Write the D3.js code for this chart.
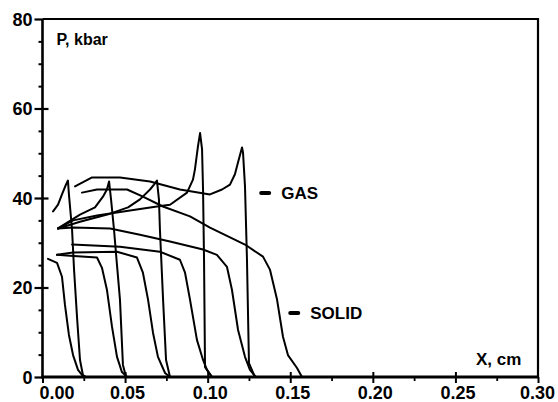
<!DOCTYPE html>
<html>
<head>
<meta charset="utf-8">
<script src="https://cdn.jsdelivr.net/npm/d3@7"></script>
<style>
  html, body { margin: 0; padding: 0; background: #fff; }
  svg { display: block; }
  text { font-family: "Liberation Sans", Arial, Helvetica, sans-serif; font-weight: bold; fill: #000; }
</style>
</head>
<body>
<svg id="chart" width="558" height="402"></svg>
<script>
// Pressure profiles P (kbar) versus distance X (cm) at successive times.
// Each profile is a list of [x, P] pairs.

// gas pressure profiles, each ending in a spike at the front
const gas1 = [[0.0064,37.0],[0.0094,38.5],[0.0118,40.8],[0.0142,43.0],[0.0154,43.9],[0.0160,40.8],[0.0179,32.9],[0.0191,24.0],[0.0209,13.4],[0.0227,3.8],[0.0245,0.4],[0.0263,0]];
const gas2 = [[0.0094,33.2],[0.0227,36.3],[0.0318,37.9],[0.0366,40.3],[0.0390,41.9],[0.0403,43.7],[0.0415,39.7],[0.0433,32.9],[0.0451,25.0],[0.0469,17.3],[0.0487,2.7],[0.0506,0]];
const gas3 = [[0.0094,33.2],[0.0227,34.7],[0.0409,36.5],[0.0518,37.9],[0.0590,39.7],[0.0651,41.9],[0.0675,43.0],[0.0693,43.9],[0.0705,39.7],[0.0711,32.9],[0.0730,17.3],[0.0748,3.8],[0.0772,0]];
const gas4 = [[0.0094,33.2],[0.0185,35.0],[0.0330,36.1],[0.0530,37.2],[0.0693,38.1],[0.0772,38.5],[0.0875,41.2],[0.0911,44.1],[0.0923,46.4],[0.0941,51.5],[0.0954,54.5],[0.0966,50.9],[0.0972,41.9],[0.0978,26.2],[0.0984,2.2],[0.1026,0]];
const gas5 = [[0.0197,42.6],[0.0300,44.6],[0.0469,44.6],[0.0651,43.7],[0.0832,41.9],[0.1014,40.8],[0.1087,41.9],[0.1135,43.0],[0.1165,45.3],[0.1184,48.0],[0.1208,51.3],[0.1214,50.2],[0.1226,42.6],[0.1238,26.2],[0.1250,3.1],[0.1286,0]];

// solid pressure profiles: plateau, then decay to zero at the front
const solid1 = [[0.0033,26.4],[0.0088,25.5],[0.0118,22.4],[0.0136,16.1],[0.0160,9.4],[0.0185,4.9],[0.0215,1.6],[0.0245,0.2],[0.0263,0]];
const solid2 = [[0.0088,27.3],[0.0166,27.1],[0.0330,26.7],[0.0360,24.4],[0.0390,19.5],[0.0421,11.2],[0.0451,4.5],[0.0481,1.1],[0.0512,0]];
const solid3 = [[0.0088,27.3],[0.0185,27.8],[0.0451,28.0],[0.0572,26.7],[0.0608,23.3],[0.0639,17.3],[0.0669,9.9],[0.0699,4.5],[0.0742,0.9],[0.0772,0]];
const solid4 = [[0.0179,29.6],[0.0469,29.1],[0.0711,28.0],[0.0832,26.2],[0.0863,23.3],[0.0893,17.3],[0.0935,8.3],[0.0972,3.8],[0.0996,1.6],[0.1026,0]];
const solid5 = [[0.0094,33.2],[0.0185,33.4],[0.0409,33.2],[0.0590,31.8],[0.0772,30.3],[0.0972,28.5],[0.1056,27.3],[0.1117,24.6],[0.1147,19.5],[0.1184,10.5],[0.1226,4.5],[0.1256,1.6],[0.1292,0]];
const solid6 = [[0.0239,41.2],[0.0330,41.9],[0.0512,41.9],[0.0608,40.3],[0.0729,38.1],[0.0893,35.9],[0.1014,33.4],[0.1226,29.6],[0.1335,26.9],[0.1377,24.0],[0.1420,17.3],[0.1456,9.0],[0.1486,4.9],[0.1541,2.0],[0.1571,0]];

// axis ticks
const xTicks = [0.00, 0.05, 0.10, 0.15, 0.20, 0.25, 0.30];
const xMinorTicks = [0.025, 0.075, 0.125, 0.175, 0.225, 0.275];
const yTicks = [0, 20, 40, 60, 80];
const yMinorTicks = [5, 10, 15, 25, 30, 35, 45, 50, 55, 65, 70, 75];

// curve labels: [text, x, P] of the dash marker in front of each name
const curveLabels = [["GAS", 0.1324, 41.1], ["SOLID", 0.1500, 14.3]];

const svg = d3.select("#chart");
const plotLeft = 42.5, plotRight = 538, plotTop = 19, plotBottom = 377;

const x = d3.scaleLinear().domain([0, 0.30]).range([plotLeft, plotRight]);
const y = d3.scaleLinear().domain([0, 80]).range([plotBottom, plotTop]);

// profiles
const line = d3.line().x(d => x(d[0])).y(d => y(d[1])).curve(d3.curveLinear);
const profiles = [gas1, gas2, gas3, gas4, gas5, solid1, solid2, solid3, solid4, solid5, solid6];
svg.append("g")
  .selectAll("path")
  .data(profiles)
  .join("path")
  .attr("d", line)
  .attr("fill", "none")
  .attr("stroke", "#000")
  .attr("stroke-width", 2)
  .attr("stroke-linejoin", "round")
  .attr("stroke-linecap", "round");

// frame: top and right edges
svg.append("path")
  .attr("d", `M${plotLeft},${plotTop}H${plotRight}V${plotBottom}`)
  .attr("fill", "none")
  .attr("stroke", "#000")
  .attr("stroke-width", 2.2);

// minor ticks
svg.append("g")
  .attr("transform", `translate(${plotLeft},0)`)
  .call(d3.axisLeft(y).tickValues(yMinorTicks).tickSize(4).tickFormat(""))
  .call(g => g.select(".domain").remove())
  .call(g => g.selectAll(".tick line").attr("stroke-width", 2));

svg.append("g")
  .attr("transform", `translate(0,${plotBottom})`)
  .call(d3.axisBottom(x).tickValues(xMinorTicks).tickSize(4).tickFormat(""))
  .call(g => g.select(".domain").remove())
  .call(g => g.selectAll(".tick line").attr("stroke-width", 1.8));

// y axis
const yAxis = svg.append("g")
  .attr("transform", `translate(${plotLeft},0)`)
  .call(d3.axisLeft(y).tickValues(yTicks).tickSize(8).tickPadding(2).tickFormat(d3.format("d")));
yAxis.select(".domain").attr("stroke-width", 2.6).attr("d", `M0,${plotTop}V${plotBottom + 1.5}`);
yAxis.selectAll(".tick line")
  .attr("x1", d => (d === 0 || d === 80) ? 0 : 6)
  .attr("stroke-width", 2.2);
yAxis.selectAll(".tick text")
  .attr("font-size", 18)
  .attr("font-family", null)
  .attr("dy", "0.36em");

// x axis; the first label is nudged right to clear the "0" of the y axis
const xAxis = svg.append("g")
  .attr("transform", `translate(0,${plotBottom})`)
  .call(d3.axisBottom(x).tickValues(xTicks).tickSize(6).tickPadding(3).tickFormat(d3.format(".2f")));
xAxis.select(".domain").attr("stroke-width", 3.2).attr("d", `M${plotLeft - 1},0H${plotRight + 1}`);
xAxis.selectAll(".tick line")
  .attr("y1", d => (d === 0 || d === 0.30) ? 0 : -5)
  .attr("stroke-width", 2);
xAxis.selectAll(".tick text")
  .attr("font-size", 18)
  .attr("font-family", null)
  .attr("dx", d => d === 0 ? 14 : (d === 0.30 ? -1 : 2));

// axis titles
svg.append("text").attr("x", plotLeft + 14).attr("y", 45).attr("font-size", 16).text("P, kbar");
svg.append("text").attr("x", x(0.30) - 62).attr("y", 365).attr("font-size", 17).text("X, cm");

// curve labels with leading dash markers
const lab = svg.append("g").selectAll("g").data(curveLabels).join("g")
  .attr("transform", d => `translate(${x(d[1])},${y(d[2])})`);
lab.append("line")
  .attr("x1", 0).attr("x2", 8).attr("y1", 0).attr("y2", 0)
  .attr("stroke", "#000").attr("stroke-width", 4).attr("stroke-linecap", "round");
lab.append("text")
  .attr("x", 20).attr("y", 0).attr("dy", "0.36em")
  .attr("font-size", 17)
  .text(d => d[0]);
</script>
</body>
</html>
